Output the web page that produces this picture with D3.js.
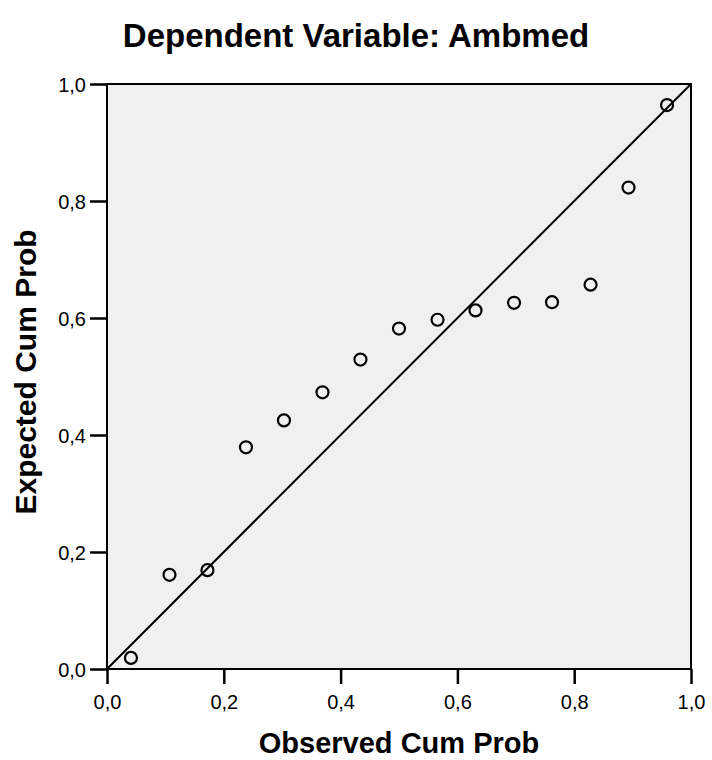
<!DOCTYPE html>
<html lang="en">
<head>
    <meta charset="UTF-8">
    <title>Normal P-P Plot</title>
    <script src="https://d3js.org/d3.v7.min.js"></script>
    <style>
        body {
            margin: 0;
            padding: 0;
            background-color: #fff;
        }

        svg {
            display: block;
        }

        svg text {
            font-family: "Liberation Sans", Arial, sans-serif;
            fill: #000;
        }

        .axis-title, .chart-title {
            font-weight: bold;
        }
    </style>
</head>
<body>
    <svg width="712" height="760"></svg>
    <script>
        // observed vs expected cumulative probabilities
        const observed = [0.041, 0.107, 0.172, 0.238, 0.303, 0.369, 0.434, 0.500,
                          0.566, 0.631, 0.697, 0.762, 0.828, 0.893, 0.959];
        const expected = [0.019, 0.161, 0.169, 0.379, 0.425, 0.473, 0.529, 0.582,
                          0.597, 0.613, 0.626, 0.627, 0.657, 0.823, 0.964];
        const tickValues = [0, 0.2, 0.4, 0.6, 0.8, 1.0];

        const titleText = "Dependent Variable: Ambmed";
        const xTitle = "Observed Cum Prob";
        const yTitle = "Expected Cum Prob";

        const svg = d3.select("svg");
        const margin = {top: 84, right: 21, bottom: 91, left: 107};
        const width = +svg.attr("width");
        const height = +svg.attr("height");
        const innerWidth = width - margin.left - margin.right;
        const innerHeight = height - margin.top - margin.bottom;

        const x = d3.scaleLinear().domain([0, 1]).range([0, innerWidth]);
        const y = d3.scaleLinear().domain([0, 1]).range([innerHeight, 0]);

        // decimal comma like the original output
        const locale = d3.formatLocale({decimal: ",", thousands: ".", grouping: [3], currency: ["", ""]});
        const fmt = locale.format(".1f");

        const g = svg.append("g")
            .attr("transform", `translate(${margin.left},${margin.top})`);

        // plot background
        g.append("rect")
            .attr("width", innerWidth)
            .attr("height", innerHeight)
            .style("fill", "#f0f0f0")
            .style("stroke", "#000")
            .style("stroke-width", 2);

        // axes
        const xAxis = d3.axisBottom(x)
            .tickValues(tickValues)
            .tickFormat(fmt)
            .tickSizeInner(15)
            .tickSizeOuter(0)
            .tickPadding(11);

        const yAxis = d3.axisLeft(y)
            .tickValues(tickValues)
            .tickFormat(fmt)
            .tickSizeInner(17)
            .tickSizeOuter(0)
            .tickPadding(4);

        const gx = g.append("g")
            .attr("transform", `translate(0,${innerHeight})`)
            .call(xAxis);
        const gy = g.append("g").call(yAxis);

        [gx, gy].forEach(a => {
            a.attr("font-size", 20).attr("font-family", "'Liberation Sans', Arial, sans-serif");
            a.select(".domain").remove();
            a.selectAll(".tick line").style("stroke", "#000").style("stroke-width", 2.5);
        });
        gy.selectAll(".tick text").attr("dy", "0.38em");

        // reference diagonal
        g.append("line")
            .attr("x1", x(0))
            .attr("y1", y(0))
            .attr("x2", x(1))
            .attr("y2", y(1))
            .style("stroke", "#000")
            .style("stroke-width", 2);

        // points
        g.selectAll(".point")
            .data(observed.map((o, i) => ({o, e: expected[i]})))
            .enter().append("circle")
            .attr("class", "point")
            .attr("cx", d => x(d.o))
            .attr("cy", d => y(d.e))
            .attr("r", 6)
            .style("fill", "none")
            .style("stroke", "#000")
            .style("stroke-width", 2.2);

        // titles
        svg.append("text")
            .attr("class", "chart-title")
            .attr("x", width / 2)
            .attr("y", 47)
            .attr("text-anchor", "middle")
            .attr("font-size", 33)
            .text(titleText);

        svg.append("text")
            .attr("class", "axis-title")
            .attr("x", margin.left + innerWidth / 2)
            .attr("y", 753)
            .attr("text-anchor", "middle")
            .attr("font-size", 29)
            .text(xTitle);

        svg.append("text")
            .attr("class", "axis-title")
            .attr("transform", `translate(36,372) rotate(-90)`)
            .attr("text-anchor", "middle")
            .attr("font-size", 30)
            .text(yTitle);
    </script>
</body>
</html>
